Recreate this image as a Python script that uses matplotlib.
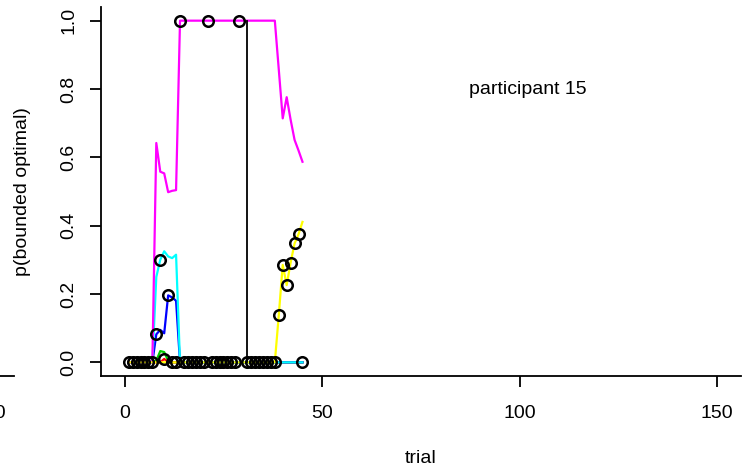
import numpy as np
import matplotlib.pyplot as plt

plt.rcParams["font.family"] = ["Liberation Sans", "DejaVu Sans"]

# --------- data ---------
trials = np.arange(1, 46)

p_magenta = [0, 0, 0, 0, 0, 0, 0, 0.642, 0.558, 0.553, 0.498, 0.502, 0.504,
             1, 1, 1, 1, 1, 1, 1, 1, 1, 1, 1, 1, 1, 1, 1, 1, 1, 1, 1, 1, 1, 1, 1, 1, 1,
             0.857, 0.714, 0.776, 0.71, 0.651, 0.62, 0.587]
p_cyan = [0, 0, 0, 0, 0, 0, 0, 0.25, 0.30, 0.325, 0.31, 0.305, 0.315] + [0] * 32
p_blue = [0, 0, 0, 0, 0, 0, 0, 0.082, 0.095, 0.085, 0.196, 0.19, 0.18] + [0] * 32
p_green = [0, 0, 0, 0, 0, 0, 0, 0.005, 0.033, 0.03, 0.005] + [0] * 34
p_red = [0] * 9 + [0.01] + [0] * 35
p_yellow = [0] * 38 + [0.138, 0.285, 0.226, 0.292, 0.348, 0.375, 0.411]

# value of the chosen model on each trial (nan = no choice recorded)
chosen = ([0] * 7 + [0.082, 0.30, 0.01, 0.196, 0, 0, 1.0] + [0] * 6 + [1.0]
          + [0] * 7 + [1.0, np.nan] + [0] * 8
          + [0.138, 0.285, 0.226, 0.292, 0.348, 0.375, 0])

block_break = 31
label = "participant 15"
label_x, label_y = 102, 0.8

xticks = [0, 50, 100, 150]
yticks = [0.0, 0.2, 0.4, 0.6, 0.8, 1.0]

# --------- layout (pixels of the 755x473 output) ---------
W, H = 755, 473
px_left, px_right, px_top, px_bottom = 101, 741, 7, 376
panel_shift = 727  # neighbouring panel, mostly off the left edge


def style_axes(a):
    a.set_xlim(-6, 156)
    a.set_ylim(-0.04, 1.04)
    a.set_xticks(xticks)
    a.set_yticks(yticks)
    a.set_yticklabels([f"{v:.1f}" for v in yticks])
    for s in ["top", "right"]:
        a.spines[s].set_visible(False)
    for s in ["left", "bottom"]:
        a.spines[s].set_linewidth(1.3)
    a.tick_params(direction="out", length=8, width=1.3, labelsize=14)
    a.tick_params(axis="x", pad=13)
    a.tick_params(axis="y", pad=9, labelrotation=90)
    for t in a.get_yticklabels():
        t.set_va("center")


fig = plt.figure(figsize=(W / 100, H / 100), dpi=100)

# neighbouring panel (only the end of its x axis shows)
ax0 = fig.add_axes([(px_left - panel_shift) / W, (H - px_bottom) / H,
                    (px_right - px_left) / W, (px_bottom - px_top) / H])
style_axes(ax0)
ax0.set_xticks([150])
ax0.set_yticks([])
ax0.spines["left"].set_visible(False)

ax = fig.add_axes([px_left / W, (H - px_bottom) / H,
                   (px_right - px_left) / W, (px_bottom - px_top) / H])
style_axes(ax)

lw = 1.6
ax.plot(trials, p_green, color="#00CD00", lw=lw)
ax.plot(trials, p_red, color="#FF0000", lw=lw)
ax.plot(trials, p_blue, color="#0000FF", lw=lw)
ax.plot(trials, p_cyan, color="#00FFFF", lw=lw)
ax.plot(trials, p_magenta, color="#FF00FF", lw=lw)
ax.plot(trials, p_yellow, color="#FFFF00", lw=lw)

ax.plot([block_break, block_break], [0, 1], color="black", lw=1.3)

ax.plot(trials, chosen, linestyle="none", marker="o", markersize=7.6,
        markerfacecolor="none", markeredgecolor="black", markeredgewidth=1.8)

ax.text(label_x, label_y, label, ha="center", va="center", fontsize=14)

ax.set_xlabel("trial", fontsize=14)
ax.set_ylabel("p(bounded optimal)", fontsize=14)
ax.xaxis.label.set_va("center")
ax.yaxis.label.set_va("center")
ax.xaxis.set_label_coords(0.5, -(458 - px_bottom) / (px_bottom - px_top))
ax.yaxis.set_label_coords(-(px_left - 23) / (px_right - px_left), 0.5)

fig.savefig("out.png", dpi=100)
